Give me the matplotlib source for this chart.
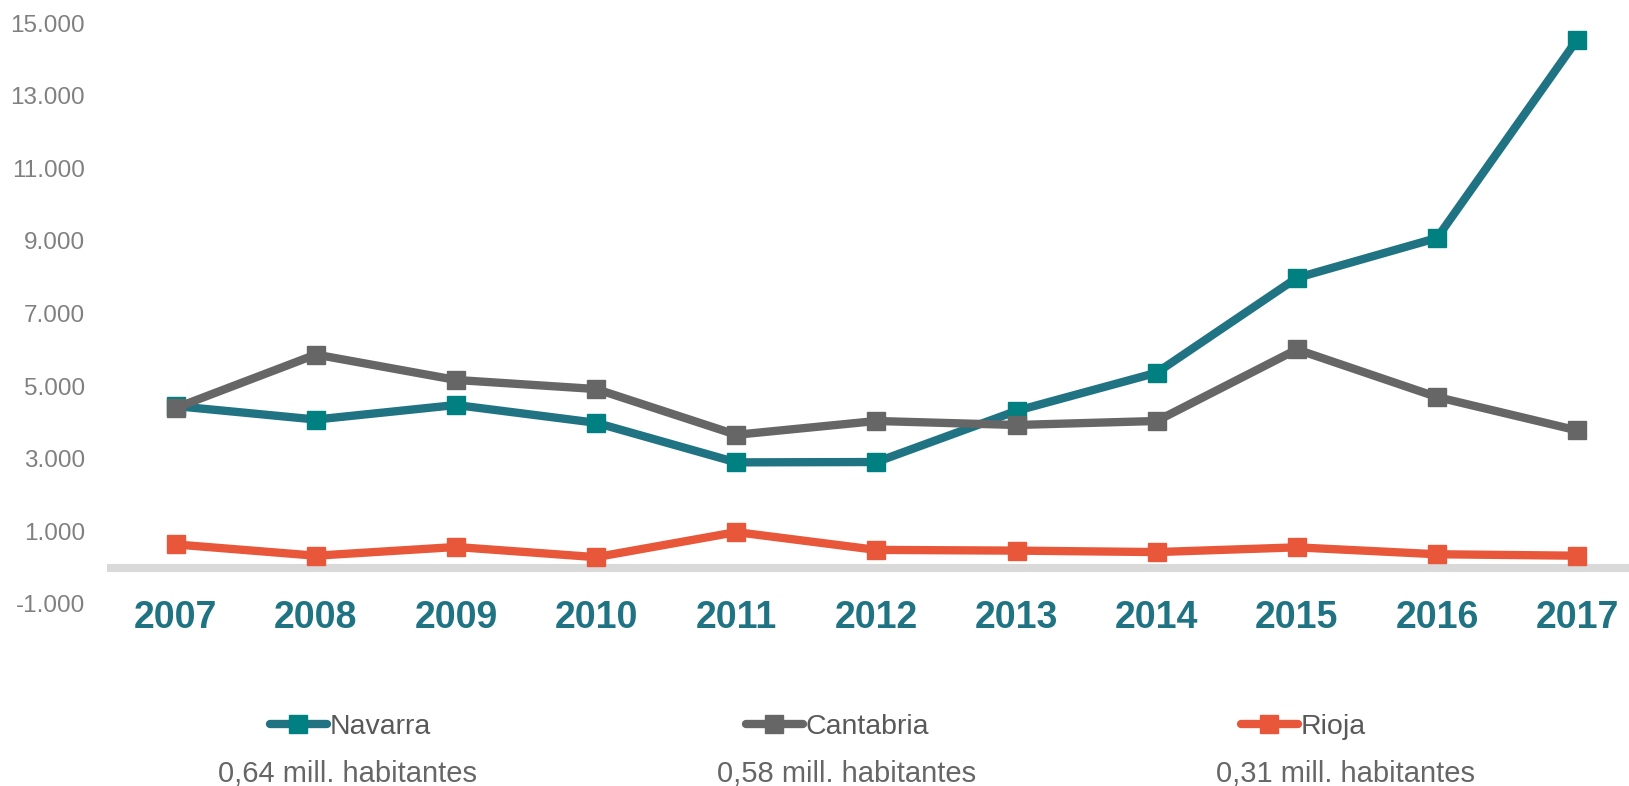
import matplotlib
matplotlib.use("Agg")
import matplotlib.pyplot as plt

plt.rcParams['font.family'] = ['Liberation Sans', 'DejaVu Sans']

years = ['2007', '2008', '2009', '2010', '2011', '2012', '2013', '2014', '2015', '2016', '2017']
navarra = [4450, 4080, 4480, 3990, 2900, 2910, 4320, 5370, 7980, 9080, 14540]
cantabria = [4400, 5870, 5170, 4920, 3660, 4040, 3930, 4040, 6010, 4700, 3780]
rioja = [640, 330, 570, 290, 980, 490, 470, 430, 560, 370, 330]
series_names = ['Navarra', 'Cantabria', 'Rioja']
population = ['0,64 mill. habitantes', '0,58 mill. habitantes', '0,31 mill. habitantes']
yticks = [-1000, 1000, 3000, 5000, 7000, 9000, 11000, 13000, 15000]
ytick_labels = ['-1.000', '1.000', '3.000', '5.000', '7.000', '9.000', '11.000', '13.000', '15.000']

line_colors = ['#1F7382', '#666666', '#E8573A']
marker_colors = ['#008080', '#666666', '#E8573A']

W, H = 1629, 786
fig = plt.figure(figsize=(W / 100, H / 100), dpi=100)
ax = fig.add_axes([107 / W, 1 - 604 / H, 1 - 107 / W, (604 - 23) / H])

x = list(range(len(years)))

# zero line
ax.axhline(0, color='#D9D9D9', lw=5.8, zorder=1)

handles = []
for vals, name, lc, mc in zip([navarra, cantabria, rioja], series_names, line_colors, marker_colors):
    ln, = ax.plot(x, vals, color=lc, lw=6, marker='s', markersize=13.5,
                  markerfacecolor=mc, markeredgecolor=mc, zorder=3,
                  solid_capstyle='round', label=name)
    handles.append(ln)

ax.set_xlim(-0.49, 10.37)
ax.set_ylim(-1000, 15000)
ax.set_xticks(x)
ax.set_xticklabels(years, fontsize=27, fontweight='bold', color='#1F7382')
ax.set_yticks(yticks)
ax.set_yticklabels(ytick_labels, fontsize=17.5, color='#808080')
ax.tick_params(axis='y', length=0, pad=16)
ax.tick_params(axis='x', length=0, pad=-3)
for s in ax.spines.values():
    s.set_visible(False)

# legend: one entry per region, with population below
leg_x = [270, 746, 1241]
sub_x = [348, 847, 1346]
for h, lx, sx, txt in zip(handles, leg_x, sub_x, population):
    fig.legend(handles=[h], loc='center left', bbox_to_anchor=(lx / W, 1 - 727 / H),
               frameon=False, fontsize=20.5, handlelength=2.0, handletextpad=0.1,
               borderpad=0, borderaxespad=0, numpoints=1, labelcolor='#595959')
    fig.text(sx / W, 1 - 774 / H, txt, ha='center', va='center', fontsize=21, color='#666666')

fig.savefig('out.png', dpi=100)
